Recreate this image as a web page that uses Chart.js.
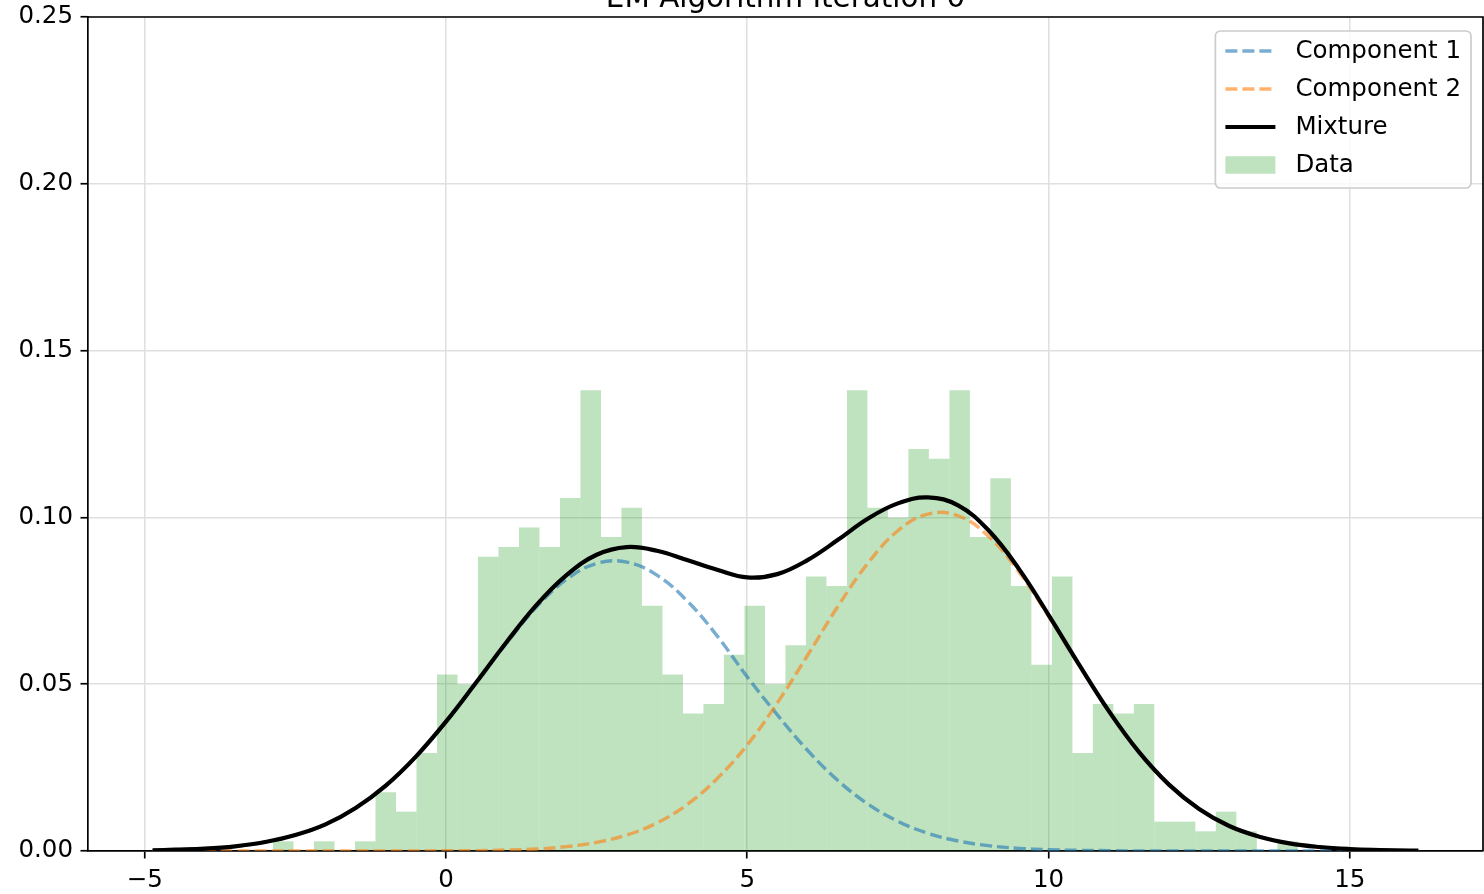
<!DOCTYPE html>
<html>
<head>
<meta charset="utf-8">
<title>EM Algorithm Iteration 0</title>
<script src="https://cdn.jsdelivr.net/npm/chart.js@4.4.1/dist/chart.umd.min.js"></script>
<style>
  html, body { margin: 0; padding: 0; background: #ffffff; }
  #wrap { width: 1484px; height: 894px; }
</style>
</head>
<body>
<div id="wrap"><canvas id="em" width="1484" height="894"></canvas></div>
<script>
// ---- data ----
const chartTitle = 'EM Algorithm Iteration 0';

// histogram bin centres and densities
const binCenters = [
  -2.701, -2.361, -2.021, -1.680, -1.340, -1.000, -0.660, -0.320, 0.021, 0.361,
   0.701,  1.041,  1.381,  1.722,  2.062,  2.402,  2.742,  3.082, 3.423, 3.763,
   4.103,  4.443,  4.783,  5.124,  5.464,  5.804,  6.144,  6.484, 6.825, 7.165,
   7.505,  7.845,  8.185,  8.526,  8.866,  9.206,  9.546,  9.886, 10.227, 10.567,
  10.907, 11.247, 11.587, 11.928, 12.268, 12.608, 12.948, 13.288, 13.629, 13.969
];
const binDensity = [
  0.0029, 0.0000, 0.0029, 0.0000, 0.0029, 0.0176, 0.0118, 0.0294, 0.0529, 0.0500,
  0.0882, 0.0911, 0.0970, 0.0911, 0.1058, 0.1381, 0.0941, 0.1029, 0.0735, 0.0529,
  0.0412, 0.0441, 0.0588, 0.0735, 0.0500, 0.0617, 0.0823, 0.0794, 0.1381, 0.1029,
  0.0999, 0.1205, 0.1176, 0.1381, 0.0941, 0.1117, 0.0794, 0.0558, 0.0823, 0.0294,
  0.0441, 0.0412, 0.0441, 0.0088, 0.0088, 0.0059, 0.0118, 0.0059, 0.0000, 0.0029
];

// sample positions of the density curves
const curveX = [
  -4.87, -4.5, -4, -3.5, -3, -2.5, -2, -1.5, -1, -0.5, 0, 0.5, 1, 1.5, 2, 2.5, 3, 3.5,
  4, 4.5, 5, 5.5, 6, 6.5, 7, 7.5, 8, 8.5, 9, 9.5, 10, 10.5, 11, 11.5, 12, 12.5,
  13, 13.5, 14, 14.5, 15, 15.5, 16, 16.14
];
const component1 = [
  0.0002, 0.0004, 0.0007, 0.0014, 0.0027, 0.0048, 0.0080, 0.0129, 0.0196, 0.0283, 0.0387,
  0.0504, 0.0622, 0.0731, 0.0814, 0.0862, 0.0866, 0.0827, 0.0750, 0.0645, 0.0522, 0.0408,
  0.0302, 0.0212, 0.0141, 0.0089, 0.0053, 0.0030, 0.0016, 0.0008, 0.0004, 0.0002, 0.0001,
  0.0000, 0.0000, 0.0000, 0.0000, 0.0000, 0.0000, 0.0000, 0.0000, 0.0000, 0.0000, 0.0000
];
const component2 = [
  0.0000, 0.0000, 0.0000, 0.0000, 0.0000, 0.0000, 0.0000, 0.0000, 0.0000, 0.0000, 0.0001,
  0.0001, 0.0003, 0.0006, 0.0013, 0.0026, 0.0048, 0.0084, 0.0139, 0.0217, 0.0318, 0.0444,
  0.0586, 0.0732, 0.0862, 0.0960, 0.1010, 0.1005, 0.0944, 0.0839, 0.0704, 0.0559, 0.0419,
  0.0297, 0.0199, 0.0126, 0.0075, 0.0043, 0.0023, 0.0012, 0.0006, 0.0003, 0.0001, 0.0001
];
const mixture = [
  0.0002, 0.0004, 0.0007, 0.0014, 0.0027, 0.0048, 0.0080, 0.0129, 0.0196, 0.0283, 0.0388,
  0.0505, 0.0625, 0.0737, 0.0827, 0.0888, 0.0911, 0.0900, 0.0872, 0.0843, 0.0820, 0.0830,
  0.0872, 0.0932, 0.0996, 0.1042, 0.1060, 0.1036, 0.0962, 0.0848, 0.0708, 0.0561, 0.0420,
  0.0297, 0.0199, 0.0126, 0.0075, 0.0043, 0.0023, 0.0012, 0.0006, 0.0003, 0.0001, 0.0001
];

const xTickValues = [-5, 0, 5, 10, 15];
const yTickValues = [0, 0.05, 0.10, 0.15, 0.20, 0.25];
const legendOrder = ['Component 1', 'Component 2', 'Mixture', 'Data'];

// ---- styling ----
const FONT = '"DejaVu Sans", "Liberation Sans", sans-serif';
const TICK_SIZE = 24.5;
const SPINE = 1.7;

const pairs = (xs, ys) => xs.map((x, i) => ({ x: x, y: ys[i] }));

// title, top/right spines and the framed legend
const decorations = {
  id: 'decorations',
  afterDatasetsDraw(chart) {
    const { ctx, chartArea: a } = chart;
    ctx.save();
    ctx.strokeStyle = '#000';
    ctx.lineWidth = SPINE;
    ctx.beginPath();
    ctx.moveTo(a.left, a.top);
    ctx.lineTo(a.right, a.top);
    ctx.lineTo(a.right, a.bottom);
    ctx.stroke();
    ctx.restore();
  },
  afterDraw(chart) {
    const { ctx, chartArea: a } = chart;
    ctx.save();

    // title (sits right at the top edge of the canvas)
    ctx.fillStyle = '#000';
    ctx.font = '29.4px ' + FONT;
    ctx.textAlign = 'center';
    ctx.textBaseline = 'alphabetic';
    ctx.fillText(chartTitle, (a.left + a.right) / 2, 7);

    // legend
    ctx.font = TICK_SIZE + 'px ' + FONT;
    let maxW = 0;
    legendOrder.forEach(t => { maxW = Math.max(maxW, ctx.measureText(t).width); });
    const boxW = 80 + maxW + 10;
    const rowH = 38;
    const boxH = 20 + rowH * (legendOrder.length - 1) + 23;
    const bx = a.right - 12 - boxW;
    const by = a.top + 14;

    ctx.beginPath();
    if (ctx.roundRect) ctx.roundRect(bx, by, boxW, boxH, 5); else ctx.rect(bx, by, boxW, boxH);
    ctx.fillStyle = 'rgba(255,255,255,0.8)';
    ctx.fill();
    ctx.strokeStyle = '#cccccc';
    ctx.lineWidth = 1.7;
    ctx.stroke();

    legendOrder.forEach((label, i) => {
      const ds = chart.data.datasets.find(d => d.label === label);
      const cy = by + 20 + i * rowH;
      const hx = bx + 10;
      if (ds.type === 'bar') {
        ctx.fillStyle = ds.backgroundColor;
        ctx.fillRect(hx, cy - 8.75, 50, 17.5);
      } else {
        ctx.beginPath();
        ctx.setLineDash(ds.borderDash || []);
        ctx.strokeStyle = ds.borderColor;
        ctx.lineWidth = ds.borderWidth;
        ctx.moveTo(hx, cy);
        ctx.lineTo(hx + 50, cy);
        ctx.stroke();
        ctx.setLineDash([]);
      }
      ctx.fillStyle = '#000';
      ctx.textAlign = 'left';
      ctx.textBaseline = 'middle';
      ctx.fillText(label, bx + 80, cy + 1);
    });
    ctx.restore();
  }
};

const lineDataset = (label, ys, color, width, dash, order) => ({
  type: 'line',
  label: label,
  data: pairs(curveX, ys),
  borderColor: color,
  borderWidth: width,
  borderDash: dash,
  pointRadius: 0,
  fill: false,
  tension: 0.4,
  order: order
});

new Chart(document.getElementById('em'), {
  type: 'line',
  data: {
    datasets: [
      lineDataset('Mixture', mixture, '#000000', 4.2, [], 1),
      lineDataset('Component 2', component2, 'rgba(255,127,14,0.6)', 3.4, [12, 5], 2),
      lineDataset('Component 1', component1, 'rgba(31,119,180,0.6)', 3.4, [12, 5], 3),
      {
        type: 'bar',
        label: 'Data',
        data: pairs(binCenters, binDensity),
        backgroundColor: 'rgba(44,160,44,0.3)',
        borderWidth: 0,
        inflateAmount: 0,
        barPercentage: 1,
        categoryPercentage: 1,
        grouped: false,
        order: 4
      }
    ]
  },
  options: {
    responsive: false,
    animation: false,
    events: [],
    devicePixelRatio: 1,
    layout: { padding: { top: 17, right: 1, bottom: 0, left: 0 } },
    plugins: {
      legend: { display: false },
      title: { display: false },
      tooltip: { enabled: false }
    },
    scales: {
      x: {
        type: 'linear',
        min: -5.942,
        max: 17.212,
        offset: false,
        afterBuildTicks: s => { s.ticks = xTickValues.map(v => ({ value: v })); },
        afterFit: s => { s.height = 43; s.paddingLeft = 0; s.paddingRight = 0; },
        grid: {
          offset: false,
          color: '#dfdfdf',
          lineWidth: 1.5,
          tickColor: '#000',
          tickLength: 7.5,
          tickWidth: SPINE
        },
        border: { display: true, color: '#000', width: SPINE },
        ticks: {
          color: '#000',
          font: { family: FONT, size: TICK_SIZE },
          padding: 7,
          maxRotation: 0,
          autoSkip: false,
          callback: v => (v < 0 ? '\u2212' + Math.abs(v) : String(v))
        }
      },
      y: {
        type: 'linear',
        min: 0,
        max: 0.25,
        afterBuildTicks: s => { s.ticks = yTickValues.map(v => ({ value: v })); },
        afterFit: s => { s.width = 88; s.paddingTop = 0; s.paddingBottom = 0; },
        grid: {
          color: '#dfdfdf',
          lineWidth: 1.5,
          tickColor: '#000',
          tickLength: 7.5,
          tickWidth: SPINE
        },
        border: { display: true, color: '#000', width: SPINE },
        ticks: {
          color: '#000',
          font: { family: FONT, size: TICK_SIZE },
          padding: 7.5,
          autoSkip: false,
          callback: v => Number(v).toFixed(2)
        }
      }
    }
  },
  plugins: [decorations]
});
</script>
</body>
</html>
